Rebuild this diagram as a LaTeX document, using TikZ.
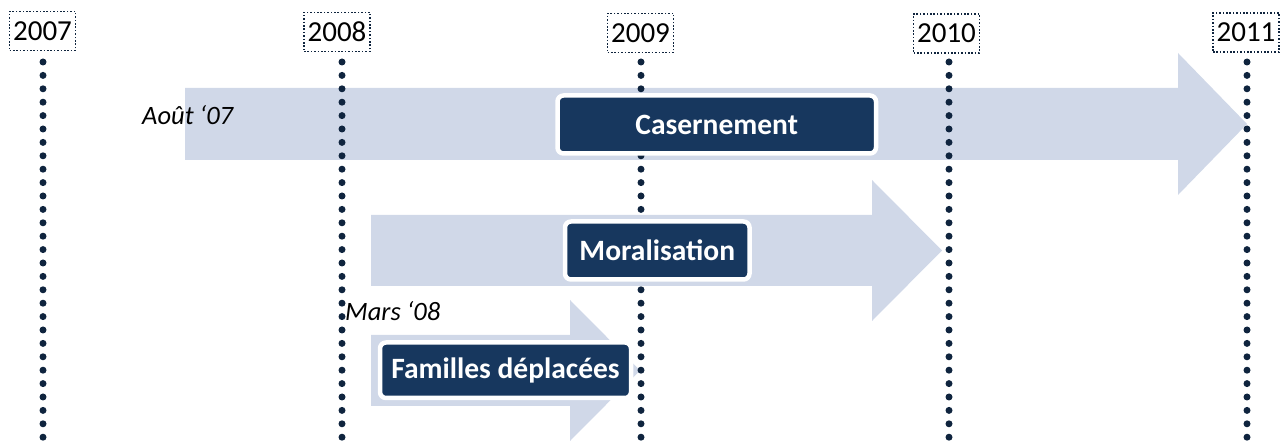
\documentclass[tikz,border=0pt]{standalone}
\usepackage{fontspec}
\setmainfont{Carlito}
\definecolor{arrowfill}{HTML}{D0D8E8}
\definecolor{boxfill}{HTML}{17375E}
\definecolor{dotcol}{HTML}{0F243E}
\begin{document}
\begin{tikzpicture}[x=1pt,y=-1pt,
  arrowshape/.style={fill=arrowfill,draw=none},
  phase/.style={rectangle,rounded corners=6pt,fill=boxfill,draw=white,line width=4.5pt,
    text=white,font=\fontsize{29.5}{33}\selectfont\bfseries,inner sep=0pt},
  yearbox/.style={rectangle,draw=dotcol,line width=1.8pt,dash pattern=on 1.6pt off 1.8pt,
    minimum width=66pt,minimum height=39pt,inner sep=0pt,font=\fontsize{29}{33}\selectfont,text=black},
  timeline/.style={draw=dotcol,line width=7pt,line cap=round,dash pattern=on 0pt off 13.4pt},
  datelabel/.style={anchor=base west,inner sep=0pt,font=\fontsize{26.5}{30}\selectfont\itshape,text=black}]
\useasboundingbox (0,0) rectangle (1283,443);
% arrows
\path[arrowshape] (185,88) -- (1178,88) -- (1178,53) -- (1247,124) -- (1178,195) -- (1178,160) -- (185,160) -- cycle;
\path[arrowshape] (371,215) -- (872,215) -- (872,180) -- (942,250.5) -- (872,321) -- (872,286) -- (371,286) -- cycle;
\path[arrowshape] (371,335) -- (570,335) -- (570,300) -- (640,370.5) -- (570,441) -- (570,406) -- (371,406) -- cycle;
% timelines
\coordinate (s2007) at (43,62);
\coordinate (s2008) at (342,62);
\coordinate (s2009) at (641,62);
\coordinate (s2010) at (949,62);
\coordinate (s2011) at (1247,62);
\coordinate (e2007) at (43,446);
\coordinate (e2008) at (342,446);
\coordinate (e2009) at (641,446);
\coordinate (e2010) at (949,446);
\coordinate (e2011) at (1247,446);
\draw[timeline] (s2007) -- (e2007);
\draw[timeline] (s2008) -- (e2008);
\draw[timeline] (s2009) -- (e2009);
\draw[timeline] (s2010) -- (e2010);
\draw[timeline] (s2011) -- (e2011);
% phase boxes
\node[phase,minimum width=318.5pt,minimum height=58pt] (cas) at (716.75,124.5) {Casernement};
\node[phase,minimum width=184.5pt,minimum height=58pt] (mor) at (657.25,250.5) {Moralisation};
\node[phase,minimum width=251pt,minimum height=55.5pt] (fam) at (505.5,370.25) {Familles déplacées};
% year boxes
\node[yearbox] (y2007) at (42.5,31) {2007};
\node[yearbox] (y2008) at (337,32) {2008};
\node[yearbox] (y2009) at (640.5,33) {2009};
\node[yearbox] (y2010) at (946.5,33.5) {2010};
\node[yearbox] (y2011) at (1246,32.5) {2011};
% date labels
\node[datelabel] (aout) at (142,125) {Août ‘07};
\node[datelabel] (mars) at (345,321) {Mars ‘08};
\end{tikzpicture}
\end{document}
